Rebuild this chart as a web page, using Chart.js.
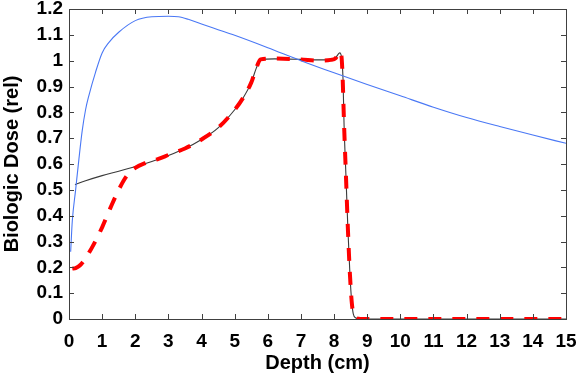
<!DOCTYPE html>
<html>
<head>
<meta charset="utf-8">
<script src="https://cdn.jsdelivr.net/npm/chart.js@4"></script>
<style>
  html, body { margin: 0; padding: 0; background: #fff; }
  #wrap { width: 579px; height: 379px; }
</style>
</head>
<body>
<div id="wrap"><canvas id="doseChart" width="579" height="379"></canvas></div>
<script>
// tick values
const xTickValues = [0,1,2,3,4,5,6,7,8,9,10,11,12,13,14,15];
const yTickValues = [0,0.1,0.2,0.3,0.4,0.5,0.6,0.7,0.8,0.9,1,1.1,1.2];

// blue curve
const blueDepth = [0.05,0.1,0.2,0.3,0.4,0.5,0.6,0.8,1.0,1.2,1.5,2.0,2.5,3.0,3.3,3.6,4.0,4.5,5,6,7,8,9,10,11,12,13,14,15];
const blueDose  = [0.26,0.38,0.5,0.62,0.73,0.81,0.865,0.955,1.03,1.07,1.11,1.155,1.17,1.172,1.17,1.16,1.142,1.12,1.098,1.05,1.0,0.953,0.908,0.864,0.82,0.78,0.745,0.712,0.68];

// black curve
const blackDepth = [0.18,0.5,1.0,1.5,2.0,2.5,3.0,3.5,4.0,4.5,5.0,5.25,5.5,5.65,5.78,6.2,7.0,7.5,7.9,8.05,8.17,8.23,8.27,8.3,8.36,8.42,8.48,8.53,8.58,8.65,8.8,15];
const blackDose  = [0.52,0.535,0.555,0.572,0.59,0.61,0.633,0.66,0.695,0.74,0.81,0.855,0.915,0.97,1.005,1.007,1.005,1.003,1.005,1.012,1.03,1.01,0.93,0.76,0.55,0.34,0.17,0.07,0.02,0.005,0,0];

// red dashed curve
const redDepth = [0.1,0.2,0.35,0.5,0.75,1.0,1.25,1.5,1.75,2.0,2.3,2.7,3.0,3.5,4.0,4.5,5.0,5.25,5.5,5.65,5.78,6.2,7.0,7.5,7.9,8.05,8.15,8.22,8.26,8.3,8.36,8.42,8.48,8.53,8.58,8.65,8.8,15];
const redDose  = [0.195,0.197,0.21,0.235,0.29,0.355,0.43,0.5,0.555,0.585,0.603,0.62,0.635,0.66,0.695,0.74,0.81,0.855,0.915,0.97,1.005,1.008,1.005,1.0,1.003,1.01,1.035,1.02,0.93,0.76,0.55,0.34,0.17,0.07,0.02,0.005,0,0];

function pts(xs, ys) {
    return xs.map((x, i) => ({ x: x, y: ys[i] }));
}

const FONT = "'Liberation Sans', Arial, sans-serif";

// matlab style box with inward ticks
const boxTicks = {
    id: 'boxTicks',
    afterDraw(chart) {
        const { ctx, chartArea: a, scales } = chart;
        const len = 5;
        ctx.save();
        ctx.strokeStyle = '#404040';
        ctx.lineWidth = 1;
        ctx.beginPath();
        xTickValues.forEach(v => {
            const px = Math.round(scales.x.getPixelForValue(v)) + 0.5;
            ctx.moveTo(px, a.bottom); ctx.lineTo(px, a.bottom - len);
            ctx.moveTo(px, a.top); ctx.lineTo(px, a.top + len);
        });
        yTickValues.forEach(v => {
            const py = Math.round(scales.y.getPixelForValue(v)) + 0.5;
            ctx.moveTo(a.left, py); ctx.lineTo(a.left + len, py);
            ctx.moveTo(a.right, py); ctx.lineTo(a.right - len, py);
        });
        ctx.stroke();
        ctx.strokeRect(Math.round(a.left) + 0.5, Math.round(a.top) + 0.5, Math.round(a.right - a.left), Math.round(a.bottom - a.top));
        ctx.restore();
    }
};

new Chart(document.getElementById('doseChart').getContext('2d'), {
    type: 'line',
    data: {
        datasets: [
            {
                data: pts(blueDepth, blueDose),
                borderColor: '#4a78f5',
                borderWidth: 1.1,
                pointRadius: 0,
                cubicInterpolationMode: 'monotone'
            },
            {
                data: pts(redDepth, redDose),
                borderColor: '#ff0000',
                borderWidth: 4,
                borderDash: [13, 11],
                pointRadius: 0,
                cubicInterpolationMode: 'monotone'
            },
            {
                data: pts(blackDepth, blackDose),
                borderColor: '#3a3a3a',
                borderWidth: 1.1,
                pointRadius: 0,
                cubicInterpolationMode: 'monotone'
            }
        ]
    },
    options: {
        responsive: false,
        animation: false,
        layout: { padding: { top: 9, right: 13, left: 0, bottom: 0 } },
        plugins: { legend: { display: false }, tooltip: { enabled: false } },
        scales: {
            x: {
                type: 'linear',
                min: 0, max: 15,
                afterBuildTicks: s => { s.ticks = xTickValues.map(v => ({ value: v })); },
                afterFit: s => { s.height = 60; s.paddingLeft = 0; s.paddingRight = 0; },
                grid: { display: false, drawTicks: false },
                border: { display: false },
                ticks: {
                    color: '#000', padding: 11, maxRotation: 0, autoSkip: false,
                    font: { family: FONT, size: 19, weight: 'bold' },
                    callback: v => String(v)
                },
                title: {
                    display: true, text: 'Depth (cm)', color: '#000',
                    font: { family: FONT, size: 20, weight: 'bold' },
                    padding: { top: 0, bottom: 4 }
                }
            },
            y: {
                min: 0, max: 1.2,
                afterBuildTicks: s => { s.ticks = yTickValues.map(v => ({ value: v })); },
                afterFit: s => { s.width = 69; s.paddingTop = 0; s.paddingBottom = 0; },
                grid: { display: false, drawTicks: false },
                border: { display: false },
                ticks: {
                    color: '#000', padding: 6, autoSkip: false,
                    font: { family: FONT, size: 19, weight: 'bold' },
                    callback: v => String(parseFloat(v.toFixed(1)))
                },
                title: {
                    display: true, text: 'Biologic Dose (rel)', color: '#000',
                    font: { family: FONT, size: 20, weight: 'bold' },
                    padding: { top: 0, bottom: 0 }
                }
            }
        }
    },
    plugins: [boxTicks]
});
</script>
</body>
</html>
